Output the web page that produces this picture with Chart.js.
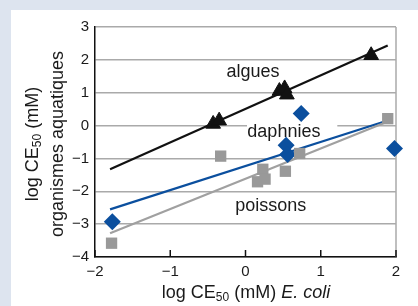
<!DOCTYPE html>
<html lang="fr">
<head>
    <meta charset="UTF-8">
    <title>CE50 E. coli vs organismes aquatiques</title>
    <script src="https://cdn.jsdelivr.net/npm/chart.js"></script>
    <style>
        body { margin: 0; background: #dde4ef; width: 418px; height: 306px; overflow: hidden; }
        #panel { position: absolute; left: 11px; top: 10px; width: 407px; height: 296px; background: #fff; }
    </style>
</head>
<body>
    <div id="panel"><canvas id="ceChart" width="407" height="296"></canvas></div>
    <script>
        // tick values
        const xTicks = [-2, -1, 0, 1, 2];
        const yTicks = [-4, -3, -2, -1, 0, 1, 2, 3];

        // algues (triangles)
        const alguesX = [-0.43, -0.35, 0.45, 0.52, 0.55, 1.67];
        const alguesY = [0.05, 0.15, 1.05, 1.13, 0.94, 2.14];
        const alguesFitX = [-1.8, 1.89];
        const alguesFitY = [-1.33, 2.44];

        // daphnies (losanges)
        const daphniesX = [-1.77, 0.54, 0.56, 0.74, 1.98];
        const daphniesY = [-2.93, -0.60, -0.88, 0.37, -0.70];
        const daphniesFitX = [-1.8, 1.9];
        const daphniesFitY = [-2.55, 0.16];

        // poissons (carres)
        const poissonsX = [-1.78, -0.33, 0.16, 0.23, 0.26, 0.53, 0.72, 1.89];
        const poissonsY = [-3.58, -0.93, -1.71, -1.33, -1.63, -1.39, -0.85, 0.21];
        const poissonsFitX = [-1.8, 1.9];
        const poissonsFitY = [-3.28, 0.13];

        const groupLabels = ['algues', 'daphnies', 'poissons'];

        const BLUE = '#0b4f9e';
        const GREY = '#999999';
        const FONT = '"Liberation Sans", Arial, sans-serif';

        function pts(xs, ys) {
            return xs.map((x, i) => ({ x: x, y: ys[i] }));
        }

        function minus(v) {
            return String(v).replace('-', '\u2212');
        }

        // draws text pieces; piece = [text, size, italic, baselineShift]
        function drawPieces(ctx, pieces, cx, cy) {
            let total = 0;
            pieces.forEach(p => {
                ctx.font = (p[2] ? 'italic ' : '') + p[1] + 'px ' + FONT;
                total += ctx.measureText(p[0]).width;
            });
            let x = cx - total / 2;
            pieces.forEach(p => {
                ctx.font = (p[2] ? 'italic ' : '') + p[1] + 'px ' + FONT;
                ctx.fillText(p[0], x, cy + p[3]);
                x += ctx.measureText(p[0]).width;
            });
        }

        const decorPlugin = {
            id: 'decor',
            beforeDatasetsDraw(chart) {
                const ctx = chart.ctx;
                const xs = chart.scales.x, ys = chart.scales.y;
                const area = chart.chartArea;
                ctx.save();
                // right border
                ctx.strokeStyle = '#aaaaaa';
                ctx.lineWidth = 1.5;
                ctx.beginPath();
                ctx.moveTo(area.right, area.top);
                ctx.lineTo(area.right, area.bottom);
                ctx.stroke();
                // ticks on x axis, pointing inside
                ctx.strokeStyle = '#111';
                ctx.lineWidth = 1.5;
                xTicks.forEach(v => {
                    const px = xs.getPixelForValue(v);
                    ctx.beginPath();
                    ctx.moveTo(px, area.bottom);
                    ctx.lineTo(px, area.bottom - 7);
                    ctx.stroke();
                });
                // white box behind "daphnies" cuts the 0 grid line
                ctx.fillStyle = '#fff';
                const gx0 = xs.getPixelForValue(0.02), gx1 = xs.getPixelForValue(1.22);
                const gy = ys.getPixelForValue(0);
                ctx.fillRect(gx0, gy - 3, gx1 - gx0, 6);

                ctx.fillStyle = '#1a1a1a';
                ctx.textBaseline = 'middle';
                ctx.textAlign = 'center';
                ctx.font = '18px ' + FONT;
                const labelPos = [[0.10, 1.62], [0.51, -0.20], [0.335, -2.45]];
                groupLabels.forEach((t, i) => {
                    ctx.fillText(t, xs.getPixelForValue(labelPos[i][0]), ys.getPixelForValue(labelPos[i][1]));
                });
                ctx.restore();
            },
            afterDraw(chart) {
                const ctx = chart.ctx;
                ctx.save();
                ctx.fillStyle = '#1a1a1a';
                ctx.textAlign = 'left';
                ctx.textBaseline = 'middle';
                // x title
                drawPieces(ctx, [['log CE', 18, false, 0], ['50', 12, false, 5], [' (mM) ', 18, false, 0], ['E. coli', 18, true, 0]], 235, 283);
                // y title, two lines
                ctx.translate(22, 134);
                ctx.rotate(-Math.PI / 2);
                drawPieces(ctx, [['log CE', 18, false, 0], ['50', 12, false, 5], [' (mM)', 18, false, 0]], 0, 0);
                drawPieces(ctx, [['organismes aquatiques', 18, false, 0]], 0, 25);
                ctx.restore();
            }
        };

        new Chart(document.getElementById('ceChart').getContext('2d'), {
            type: 'scatter',
            data: {
                datasets: [
                    { label: 'algues fit', data: pts(alguesFitX, alguesFitY), showLine: true, borderColor: '#111', borderWidth: 2.2, pointRadius: 0, order: 2 },
                    { label: 'poissons fit', data: pts(poissonsFitX, poissonsFitY), showLine: true, borderColor: '#a0a0a0', borderWidth: 2.2, pointRadius: 0, order: 2 },
                    { label: 'daphnies fit', data: pts(daphniesFitX, daphniesFitY), showLine: true, borderColor: BLUE, borderWidth: 2.2, pointRadius: 0, order: 2 },
                    { label: 'algues', data: pts(alguesX, alguesY), pointStyle: 'triangle', pointRadius: 8.5, backgroundColor: '#111', borderColor: '#111', borderWidth: 1, clip: false, order: 1 },
                    { label: 'poissons', data: pts(poissonsX, poissonsY), pointStyle: 'rect', pointRadius: 8, backgroundColor: GREY, borderColor: GREY, borderWidth: 0, clip: false, order: 1 },
                    { label: 'daphnies', data: pts(daphniesX, daphniesY), pointStyle: 'rectRot', pointRadius: 8.5, backgroundColor: BLUE, borderColor: BLUE, borderWidth: 0, clip: false, order: 1 }
                ]
            },
            options: {
                responsive: false,
                animation: false,
                layout: { padding: { left: 0, top: 17, right: 22, bottom: 0 } },
                plugins: { legend: { display: false }, tooltip: { enabled: false } },
                scales: {
                    x: {
                        min: -2, max: 2,
                        afterFit: s => { s.height = 49; },
                        afterBuildTicks: s => { s.ticks = xTicks.map(v => ({ value: v })); },
                        ticks: { padding: 6, color: '#1a1a1a', font: { family: FONT, size: 15 }, callback: v => minus(v), maxRotation: 0 },
                        grid: { display: false, drawTicks: false },
                        border: { display: true, color: '#111', width: 1.5 }
                    },
                    y: {
                        min: -4, max: 3,
                        afterFit: s => { s.width = 84; },
                        afterBuildTicks: s => { s.ticks = yTicks.map(v => ({ value: v })); },
                        ticks: { padding: 6, color: '#1a1a1a', font: { family: FONT, size: 15 }, callback: v => minus(v) },
                        grid: { color: '#aaaaaa', lineWidth: 1.5, drawTicks: false },
                        border: { display: true, color: '#111', width: 1.5 }
                    }
                }
            },
            plugins: [decorPlugin]
        });
    </script>
</body>
</html>
